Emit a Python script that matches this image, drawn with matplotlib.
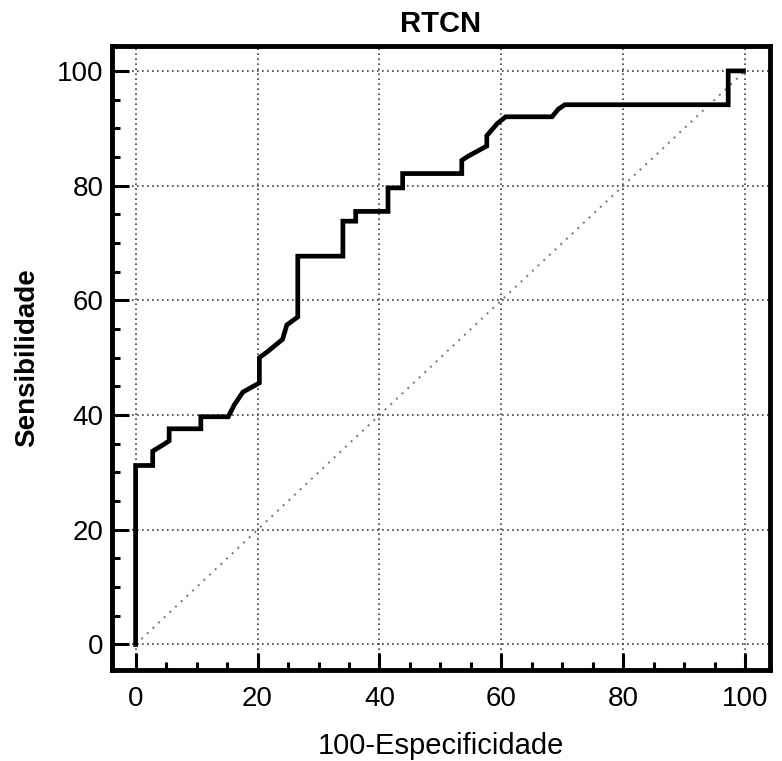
import numpy as np
import matplotlib
matplotlib.use("Agg")
import matplotlib.pyplot as plt
from matplotlib.ticker import MultipleLocator

plt.rcParams["font.family"] = ["Liberation Sans", "DejaVu Sans"]

TITLE = "RTCN"
X_LABEL = "100-Especificidade"
Y_LABEL = "Sensibilidade"

# ROC vertices (100-specificity, sensitivity)
fpr = [0, 0, 2.8, 2.8, 4.5, 5.5, 5.5, 10.7, 10.7, 15.2, 16.2, 17.6, 20.3,
       20.3, 21.7, 24.1, 24.8, 26.6, 26.6, 34.0, 34.0, 36.1, 36.1, 41.4,
       41.4, 43.8, 43.8, 53.5, 53.5, 54.5, 57.6, 57.6, 59.3, 60.7, 68.3,
       69.3, 70.4, 97.2, 97.2, 99.7]
tpr = [0, 31.2, 31.2, 33.7, 34.8, 35.5, 37.6, 37.6, 39.7, 39.7, 41.8, 44.0,
       45.6, 50.0, 51.1, 53.2, 55.7, 57.1, 67.7, 67.7, 73.8, 73.8, 75.5,
       75.5, 79.6, 79.6, 82.1, 82.1, 84.4, 85.1, 86.9, 88.7, 90.8, 92.0,
       92.0, 93.3, 94.1, 94.1, 100.0, 100.0]

ref_line = [0, 100]
major_ticks = [0, 20, 40, 60, 80, 100]

fig = plt.figure(figsize=(7.82, 7.61), dpi=100, facecolor="white")
ax = fig.add_axes([0.143, 0.120, 0.842, 0.820])

ax.set_xlim(-3.9, 104.1)
ax.set_ylim(-4.4, 104.4)

ax.grid(True, which="major", color="0.25", linestyle=(0, (1, 2)),
        linewidth=1.2)

ax.plot(ref_line, ref_line, color="0.45", linestyle=(0, (1, 3)),
        linewidth=1.4)

ax.plot(fpr, tpr, color="black", linewidth=3.4, solid_joinstyle="miter",
        zorder=3)

ax.set_xticks(major_ticks)
ax.set_yticks(major_ticks)
ax.xaxis.set_minor_locator(MultipleLocator(5))
ax.yaxis.set_minor_locator(MultipleLocator(5))

ax.tick_params(which="major", direction="in", length=12, width=2.2,
               labelsize=20, pad=6, colors="black")
ax.tick_params(which="minor", direction="in", length=6, width=2.2)
ax.tick_params(axis="x", which="major", pad=12)

for spine in ax.spines.values():
    spine.set_linewidth(3.5)

ax.set_title(TITLE, fontsize=21, fontweight="bold", pad=10)
ax.set_xlabel(X_LABEL, fontsize=21, labelpad=14)
ax.set_ylabel(Y_LABEL, fontsize=20, fontweight="bold", labelpad=12)

fig.savefig("out.png", dpi=100, facecolor="white")
